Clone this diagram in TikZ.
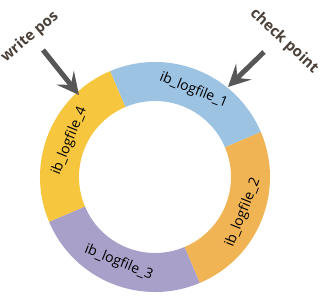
\documentclass[tikz,border=0pt]{standalone}
\usepackage{fontspec}
\setmainfont{Open Sans}
\usetikzlibrary{arrows.meta}
\definecolor{segblue}{HTML}{9DC3E3}
\definecolor{segyellow}{HTML}{F6C63F}
\definecolor{segpurple}{HTML}{A8A0C9}
\definecolor{segorange}{HTML}{F1B455}
\definecolor{arrowgray}{HTML}{575757}
\definecolor{labelbrown}{HTML}{4A4038}
\tikzset{
  seglabel/.style={font=\fontsize{14}{16}\selectfont, text=black, inner sep=0pt},
  pointer/.style={line width=5pt, draw=arrowgray, -{Stealth[length=22pt, width=22pt, inset=9pt]}},
  caption/.style={font=\fontsize{15}{17}\selectfont\bfseries, text=labelbrown, inner sep=0pt}
}
\begin{document}
\begin{tikzpicture}[x=1pt, y=1pt]
\useasboundingbox (0,0) rectangle (325,302);
\coordinate (c) at (155,125);
\def\Ro{115}
\def\Ri{76}
% segments
\fill[segblue]   ([shift={(23:\Ro)}]c) arc[start angle=23, end angle=113, radius=\Ro] -- ([shift={(113:\Ri)}]c) arc[start angle=113, end angle=23, radius=\Ri] -- cycle;
\fill[segyellow] ([shift={(113:\Ro)}]c) arc[start angle=113, end angle=203, radius=\Ro] -- ([shift={(203:\Ri)}]c) arc[start angle=203, end angle=113, radius=\Ri] -- cycle;
\fill[segpurple] ([shift={(203:\Ro)}]c) arc[start angle=203, end angle=293, radius=\Ro] -- ([shift={(293:\Ri)}]c) arc[start angle=293, end angle=203, radius=\Ri] -- cycle;
\fill[segorange] ([shift={(293:\Ro)}]c) arc[start angle=293, end angle=383, radius=\Ro] -- ([shift={(383:\Ri)}]c) arc[start angle=383, end angle=293, radius=\Ri] -- cycle;
% labels
\node[seglabel, rotate=-22] (l1) at ([shift={(66:95)}]c) {ib\_logfile\_1};
\node[seglabel, rotate=68]  (l2) at ([shift={(-22:95)}]c) {ib\_logfile\_2};
\node[seglabel, rotate=-22] (l3) at ([shift={(247:93)}]c) {ib\_logfile\_3};
\node[seglabel, rotate=68]  (l4) at ([shift={(157:93)}]c) {ib\_logfile\_4};
% pointers
\coordinate (wtail) at (43,252);
\coordinate (wtip) at (79,207);
\coordinate (ctail) at (264,250);
\coordinate (ctip) at (228,215);
\draw[pointer] (wtail) -- (wtip);
\draw[pointer] (ctail) -- (ctip);
\node[caption, rotate=40] (wp) at (30,265) {write pos};
\node[caption, rotate=-43] (cp) at (284,261) {check point};
\end{tikzpicture}
\end{document}
